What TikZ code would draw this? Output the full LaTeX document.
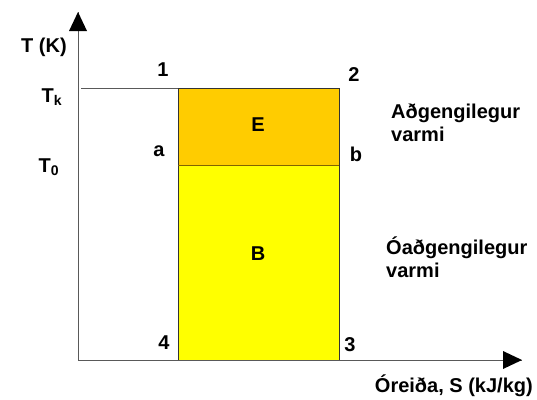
\documentclass[tikz,border=0pt]{standalone}
\usepackage{fontspec}
\setmainfont{Liberation Sans}[BoldFont={Liberation Sans Bold}]
\definecolor{eorange}{RGB}{255,204,0}
\definecolor{byellow}{RGB}{255,255,0}
\definecolor{sepline}{RGB}{128,100,0}
\begin{document}
\begin{tikzpicture}[x=1pt,y=-1pt,
  lbl/.style={font=\fontsize{20}{23}\selectfont\bfseries, inner sep=0pt},
  axis/.style={draw=black!65, line width=0.9pt},
  area/.style={draw=black!80, line width=0.9pt}]
\useasboundingbox (0,0) rectangle (537,399);
\coordinate (O) at (78,360);
\coordinate (Ytip) at (78,12);
\coordinate (Xtip) at (522,360);
\coordinate (Tk) at (81,88);
\coordinate (p1) at (178,88);
\coordinate (p2) at (339,88);
\coordinate (pa) at (178,165);
\coordinate (pb) at (339,165);
\coordinate (p4) at (178,360);
\coordinate (p3) at (339,360);
\fill[byellow] (pa) rectangle (p3);
\fill[eorange] (p1) rectangle (pb);
\draw[area] (p1) rectangle (p3);
\draw[area, draw=sepline] (pa) -- (pb);
\draw[axis] (Tk) -- (p1);
\draw[axis] (O) -- (Xtip);
\draw[axis] (O) -- (Ytip);
\fill (Ytip) -- (69,31) -- (87,31) -- cycle;
\fill (Xtip) -- (503,351) -- (503,369) -- cycle;
\node[lbl] (tK) at (44,47) {T (K)};
\node[lbl] (tk) at (52,97) {T\textsubscript{k}};
\node[lbl] (t0) at (49,167) {T\textsubscript{0}};
\node[lbl] (n1) at (163,70) {1};
\node[lbl] (n2) at (354,75) {2};
\node[lbl] (na) at (159,151) {a};
\node[lbl] (nb) at (356,154) {b};
\node[lbl] (nE) at (258,125) {E};
\node[lbl] (nB) at (258,254) {B};
\node[lbl] (n4) at (164,343) {4};
\node[lbl] (n3) at (350,345) {3};
\node[lbl, anchor=west, align=left] (ag) at (391,123) {Aðgengilegur\\varmi};
\node[lbl, anchor=west, align=left] (og) at (386,257) {Óaðgengilegur\\varmi};
\node[lbl, anchor=east] (xl) at (533,386) {Óreiða, S (kJ/kg)};
\end{tikzpicture}
\end{document}
